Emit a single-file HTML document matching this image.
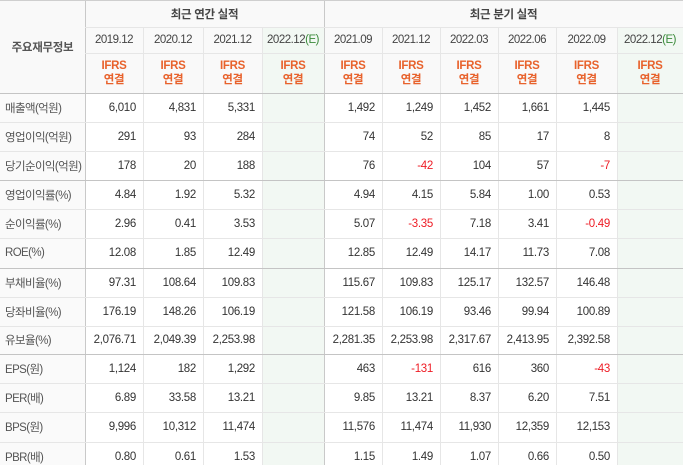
<!DOCTYPE html>
<html><head><meta charset="utf-8">
<style>
*{margin:0;padding:0;box-sizing:border-box}
body{width:683px;height:465px;overflow:hidden;background:#fff;font-family:"Liberation Sans","Noto Sans CJK KR",sans-serif;font-size:11.5px;letter-spacing:-0.3px;color:#333}
#t{position:relative;width:683px;height:465px}
.c{position:absolute;display:flex;align-items:center;white-space:nowrap}
.vl{position:absolute;top:0;width:1px;height:465px;background:#e6e6e6}
.hl{position:absolute;left:0;height:1px;width:683px;background:#e6e6e6}
</style></head><body>
<div id="t"></div>
<script>
const periods=["2019.12","2020.12","2021.12","2022.12","2021.09","2021.12","2022.03","2022.06","2022.09","2022.12"];
const estimate=[false,false,false,true,false,false,false,false,false,true];
const rowLabels=["매출액(억원)","영업이익(억원)","당기순이익(억원)","영업이익률(%)","순이익률(%)","ROE(%)","부채비율(%)","당좌비율(%)","유보율(%)","EPS(원)","PER(배)","BPS(원)","PBR(배)"];
const values=[
["6,010","4,831","5,331","","1,492","1,249","1,452","1,661","1,445",""],
["291","93","284","","74","52","85","17","8",""],
["178","20","188","","76","-42","104","57","-7",""],
["4.84","1.92","5.32","","4.94","4.15","5.84","1.00","0.53",""],
["2.96","0.41","3.53","","5.07","-3.35","7.18","3.41","-0.49",""],
["12.08","1.85","12.49","","12.85","12.49","14.17","11.73","7.08",""],
["97.31","108.64","109.83","","115.67","109.83","125.17","132.57","146.48",""],
["176.19","148.26","106.19","","121.58","106.19","93.46","99.94","100.89",""],
["2,076.71","2,049.39","2,253.98","","2,281.35","2,253.98","2,317.67","2,413.95","2,392.58",""],
["1,124","182","1,292","","463","-131","616","360","-43",""],
["6.89","33.58","13.21","","9.85","13.21","8.37","6.20","7.51",""],
["9,996","10,312","11,474","","11,576","11,474","11,930","12,359","12,153",""],
["0.80","0.61","1.53","","1.15","1.49","1.07","0.66","0.50",""]];
const T=document.getElementById('t');
const xs=[0,85,143,203,262,324,382,440,498,556,617,683];
const ys=[93,122,151,180,209,238,268,297,326,354,383,412,442,471];
const dark=[0,3,6,9];
function mk(cls,css,html,name){const d=document.createElement('div');d.className=cls;d.style.cssText=css;if(html!=null)d.innerHTML=html;


T.appendChild(d);return d;}
mk('c','left:0;top:0;width:683px;height:93px;background:#f9f9f9',null,'header-background');
mk('c','left:0;top:93px;width:85px;height:372px;background:#fafafa',null,'label-column-background');
[3,9].forEach(i=>{mk('c',`left:${xs[i+1]}px;top:27px;width:${xs[i+2]-xs[i+1]}px;height:438px;background:#f2f8f3`,null,'estimate-column-background');});
for(let i=1;i<xs.length-1;i++){mk('vl',`left:${xs[i]}px;${i==1||i==5?'background:#c9c9c9;':''}${i>1&&i!=5?'top:27px;height:438px;':''}`,null,'column-divider');}
mk('hl','top:0;background:#cfcfcf',null,'top-border');
mk('hl','top:27px;left:85px;width:598px',null,'header-divider');
mk('hl','top:53px;left:85px;width:598px',null,'header-divider');
for(let r=0;r<13;r++){const d=dark.includes(r);mk('hl',`top:${ys[r]}px;${d?'background:#c4c4c4;':''}`,null,'row-divider');}
mk('c','left:0;top:0;width:85px;height:93px;justify-content:center;font-weight:bold;color:#555','주요재무정보','header-label');
mk('c','left:85px;top:0;width:239px;height:27px;justify-content:center;font-weight:bold;color:#444','최근 연간 실적','annual-header');
mk('c','left:324px;top:0;width:359px;height:27px;justify-content:center;font-weight:bold;color:#444','최근 분기 실적','quarterly-header');
periods.forEach((p,i)=>{
 const x=xs[i+1],w=xs[i+2]-x;
 mk('c',`left:${x}px;top:27px;width:${w}px;height:26px;justify-content:center;color:#444;letter-spacing:-0.5px`,p+(estimate[i]?'<span style="color:#3a8a3a">(E)</span>':''),'period-'+p);
 mk('c',`left:${x}px;top:55px;width:${w}px;height:36px;justify-content:center;text-align:center;color:#e8622c;font-weight:bold;line-height:14px;white-space:normal`,'IFRS<br>연결','ifrs-consolidated-label');
});
rowLabels.forEach((l,r)=>{
 const y=ys[r],h=ys[r+1]-y;
 mk('c',`left:5px;top:${y}px;width:80px;height:${h}px;color:#555;letter-spacing:-0.6px`,l,'row-label');
 values[r].forEach((v,i)=>{
  if(!v)return;
  const x=xs[i+1],w=xs[i+2]-x;
  mk('c',`left:${x}px;top:${y}px;width:${w-7}px;height:${h}px;justify-content:flex-end;color:${v[0]=='-'?'#ee1c25':'#333'}`,v,'value-cell');
 });
});
</script>
</body></html>
